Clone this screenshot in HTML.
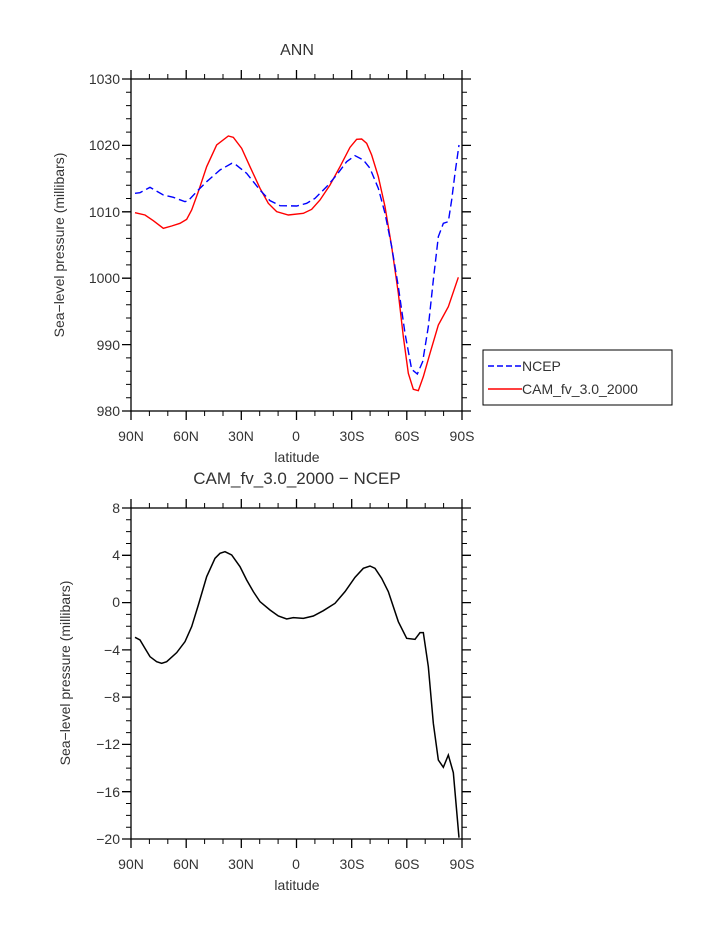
<!DOCTYPE html>
<html><head><style>body{margin:0;background:#fff}svg text{font-family:"Liberation Sans",sans-serif;fill:#333}</style></head><body>
<svg width="723" height="935" viewBox="0 0 723 935" xmlns="http://www.w3.org/2000/svg">
<g stroke="#000" stroke-width="1.3" fill="none">
<rect x="131" y="79" width="331" height="332"/>
<rect x="131" y="508" width="331" height="331"/>
<path d="M131,79v-9M186.2,79v-9M241.3,79v-9M296.5,79v-9M351.7,79v-9M406.8,79v-9M462,79v-9M131,411v9M186.2,411v9M241.3,411v9M296.5,411v9M351.7,411v9M406.8,411v9M462,411v9
M131,508v-9M186.2,508v-9M241.3,508v-9M296.5,508v-9M351.7,508v-9M406.8,508v-9M462,508v-9M131,839v9M186.2,839v9M241.3,839v9M296.5,839v9M351.7,839v9M406.8,839v9M462,839v9
M131,79h-9M131,145.4h-9M131,211.8h-9M131,278.2h-9M131,344.6h-9M131,411h-9M462,79h9M462,145.4h9M462,211.8h9M462,278.2h9M462,344.6h9M462,411h9
M131,508h-9M131,555.3h-9M131,602.6h-9M131,649.9h-9M131,697.1h-9M131,744.4h-9M131,791.7h-9M131,839h-9M462,508h9M462,555.3h9M462,602.6h9M462,649.9h9M462,697.1h9M462,744.4h9M462,791.7h9M462,839h9"/>
</g>
<g id="mt" stroke="#000" stroke-width="1" fill="none">
<path d="M149.4,79v-5M167.8,79v-5M204.6,79v-5M223,79v-5M259.7,79v-5M278.1,79v-5M314.9,79v-5M333.3,79v-5M370.1,79v-5M388.4,79v-5M425.2,79v-5M443.6,79v-5
M149.4,411v5M167.8,411v5M204.6,411v5M223,411v5M259.7,411v5M278.1,411v5M314.9,411v5M333.3,411v5M370.1,411v5M388.4,411v5M425.2,411v5M443.6,411v5
M149.4,508v-5M167.8,508v-5M204.6,508v-5M223,508v-5M259.7,508v-5M278.1,508v-5M314.9,508v-5M333.3,508v-5M370.1,508v-5M388.4,508v-5M425.2,508v-5M443.6,508v-5
M149.4,839v5M167.8,839v5M204.6,839v5M223,839v5M259.7,839v5M278.1,839v5M314.9,839v5M333.3,839v5M370.1,839v5M388.4,839v5M425.2,839v5M443.6,839v5"/>
<path d="M131,92.3h-5M131,105.6h-5M131,118.8h-5M131,132.1h-5M131,158.7h-5M131,172h-5M131,185.2h-5M131,198.5h-5M131,225.1h-5M131,238.4h-5M131,251.6h-5M131,264.9h-5M131,291.5h-5M131,304.8h-5M131,318h-5M131,331.3h-5M131,357.9h-5M131,371.2h-5M131,384.4h-5M131,397.7h-5
M462,92.3h5M462,105.6h5M462,118.8h5M462,132.1h5M462,158.7h5M462,172h5M462,185.2h5M462,198.5h5M462,225.1h5M462,238.4h5M462,251.6h5M462,264.9h5M462,291.5h5M462,304.8h5M462,318h5M462,331.3h5M462,357.9h5M462,371.2h5M462,384.4h5M462,397.7h5"/>
<path d="M131,519.8h-5M131,531.6h-5M131,543.5h-5M131,567.1h-5M131,578.9h-5M131,590.8h-5M131,614.4h-5M131,626.2h-5M131,638.1h-5M131,661.7h-5M131,673.5h-5M131,685.3h-5M131,709h-5M131,720.8h-5M131,732.6h-5M131,756.2h-5M131,768.1h-5M131,779.9h-5M131,803.5h-5M131,815.4h-5M131,827.2h-5
M462,519.8h5M462,531.6h5M462,543.5h5M462,567.1h5M462,578.9h5M462,590.8h5M462,614.4h5M462,626.2h5M462,638.1h5M462,661.7h5M462,673.5h5M462,685.3h5M462,709h5M462,720.8h5M462,732.6h5M462,756.2h5M462,768.1h5M462,779.9h5M462,803.5h5M462,815.4h5M462,827.2h5"/>
</g>
<g transform="translate(100,60) scale(0.33333)" fill="none" stroke-width="1.4">
<polyline vector-effect="non-scaling-stroke" stroke="#f00" points="105,458 135,465 160,482 190,505 215,498 240,490 260,478 275,450 295,395 320,320 350,255 385,228 400,232 425,265 450,320 480,385 505,430 530,455 565,465 610,460 635,448 660,420 690,375 720,320 750,262 770,238 785,237 800,250 815,285 835,350 855,440 875,560 895,700 910,830 925,940 940,988 955,992 970,950 990,880 1015,795 1045,740 1075,652"/>
<polyline vector-effect="non-scaling-stroke" stroke="#00f" stroke-dasharray="8,4" points="105,400 120,398 150,382 190,405 220,412 255,425 265,422 290,395 320,365 360,330 395,310 405,312 440,340 480,390 510,422 540,437 590,438 620,430 645,415 680,380 710,345 740,305 765,287 790,300 810,325 835,385 855,460 875,560 895,680 915,820 935,928 952,942 968,905 985,800 1000,660 1015,530 1030,490 1045,485 1055,420 1065,340 1077,255"/>
</g>
<g transform="translate(100,490) scale(0.33333)" fill="none">
<polyline vector-effect="non-scaling-stroke" stroke="#000" stroke-width="1.5" points="105,442 120,450 135,475 150,500 170,515 185,520 200,515 230,488 255,455 275,410 295,345 320,260 345,205 360,190 375,185 395,195 420,230 440,270 460,305 480,335 510,360 535,378 560,387 580,383 610,385 640,378 670,362 705,340 735,305 765,262 790,235 810,228 825,235 845,265 865,305 895,395 920,445 945,448 960,428 970,428 985,530 1000,700 1015,810 1030,832 1045,795 1060,848 1077,1043"/>
</g>
<g font-size="14" text-anchor="end">
<text x="120" y="84">1030</text><text x="120" y="150">1020</text><text x="120" y="217">1010</text><text x="120" y="283">1000</text><text x="120" y="350">990</text><text x="120" y="416">980</text>
<text x="120" y="513">8</text><text x="120" y="560">4</text><text x="120" y="607">0</text><text x="120" y="655">−4</text><text x="120" y="702">−8</text><text x="120" y="749">−12</text><text x="120" y="797">−16</text><text x="120" y="844">−20</text>
</g>
<g font-size="14" text-anchor="middle">
<text x="131" y="441">90N</text><text x="186" y="441">60N</text><text x="241" y="441">30N</text><text x="296" y="441">0</text><text x="352" y="441">30S</text><text x="407" y="441">60S</text><text x="462" y="441">90S</text>
<text x="131" y="869">90N</text><text x="186" y="869">60N</text><text x="241" y="869">30N</text><text x="296" y="869">0</text><text x="352" y="869">30S</text><text x="407" y="869">60S</text><text x="462" y="869">90S</text>
<text x="297" y="462">latitude</text><text x="297" y="890">latitude</text>
<text x="297" y="55" font-size="16">ANN</text>
<text x="297" y="484" font-size="17">CAM_fv_3.0_2000 − NCEP</text>
<text transform="translate(64,245) rotate(-90)">Sea−level pressure (millibars)</text>
<text transform="translate(70,673) rotate(-90)">Sea−level pressure (millibars)</text>
</g>
<rect x="483" y="350" width="189" height="55" fill="none" stroke="#000" stroke-width="1"/>
<line x1="488" y1="366" x2="522" y2="366" stroke="#00f" stroke-width="1.4" stroke-dasharray="6,3"/>
<line x1="488" y1="389" x2="522" y2="389" stroke="#f00" stroke-width="1.4"/>
<text x="522" y="371" font-size="14">NCEP</text>
<text x="522" y="394" font-size="14">CAM_fv_3.0_2000</text>
</svg>
</body></html>
